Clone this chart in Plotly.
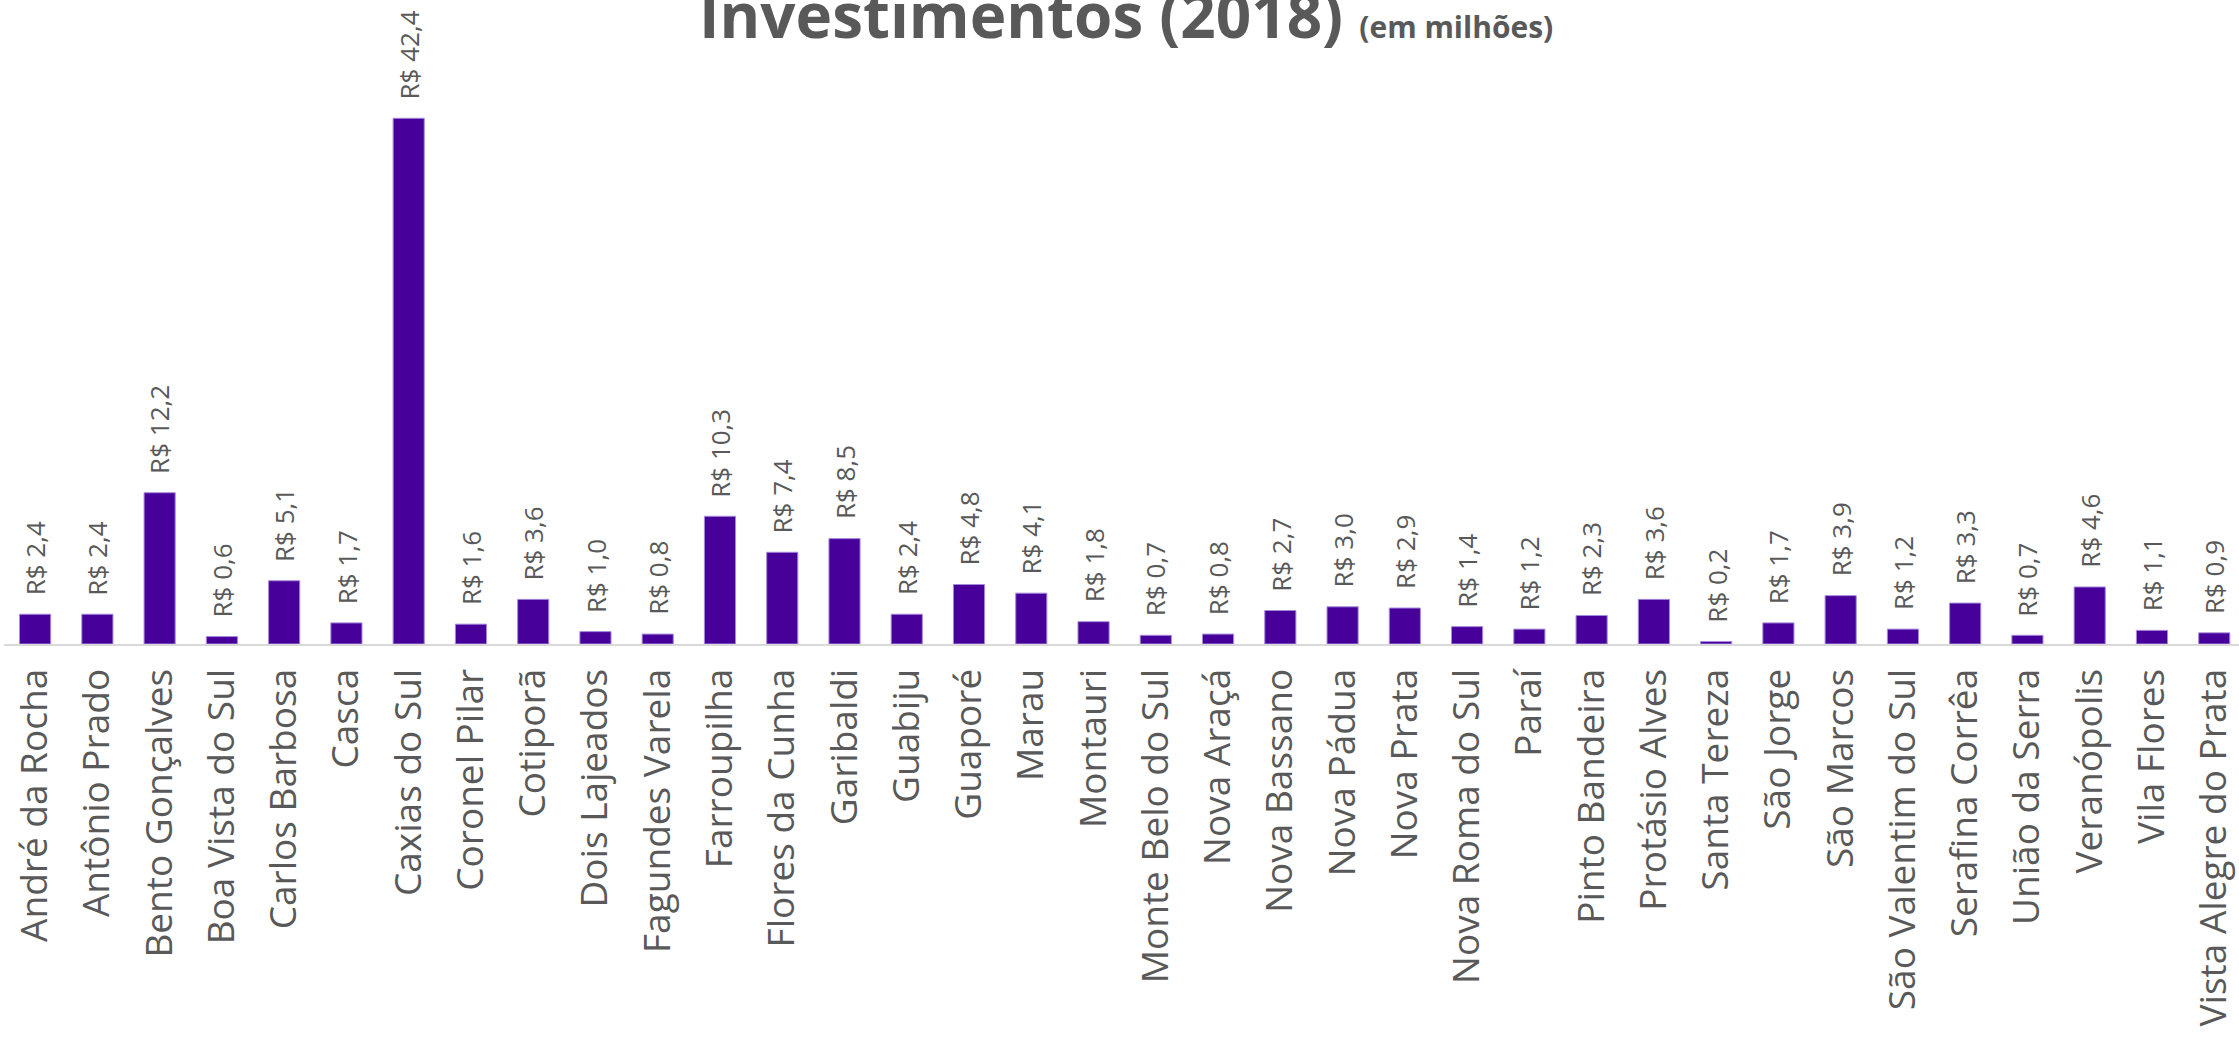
import plotly.graph_objects as go

municipios = [
    "André da Rocha", "Antônio Prado", "Bento Gonçalves", "Boa Vista do Sul",
    "Carlos Barbosa", "Casca", "Caxias do Sul", "Coronel Pilar", "Cotiporã",
    "Dois Lajeados", "Fagundes Varela", "Farroupilha", "Flores da Cunha",
    "Garibaldi", "Guabiju", "Guaporé", "Marau", "Montauri", "Monte Belo do Sul",
    "Nova Araçá", "Nova Bassano", "Nova Pádua", "Nova Prata", "Nova Roma do Sul",
    "Paraí", "Pinto Bandeira", "Protásio Alves", "Santa Tereza", "São Jorge",
    "São Marcos", "São Valentim do Sul", "Serafina Corrêa", "União da Serra",
    "Veranópolis", "Vila Flores", "Vista Alegre do Prata",
]
investimentos = [
    2.4, 2.4, 12.2, 0.6, 5.1, 1.7, 42.4, 1.6, 3.6, 1.0, 0.8, 10.3, 7.4, 8.5,
    2.4, 4.8, 4.1, 1.8, 0.7, 0.8, 2.7, 3.0, 2.9, 1.4, 1.2, 2.3, 3.6, 0.2, 1.7,
    3.9, 1.2, 3.3, 0.7, 4.6, 1.1, 0.9,
]
titulo = "Investimentos (2018)"
subtitulo = "(em milhões)"

TXT = "#595959"
FONT = "Open Sans"

fig = go.Figure()
fig.add_trace(go.Bar(
    x=municipios, y=investimentos,
    marker=dict(color="#47009A", line=dict(color="#A48ADB", width=1)),
    hoverinfo="x+y",
))

for m, v in zip(municipios, investimentos):
    fig.add_annotation(
        x=m, y=v, text="R$ " + f"{v:.1f}".replace(".", ","),
        textangle=-90, showarrow=False, yanchor="bottom", xanchor="center",
        yshift=17, font=dict(family=FONT, size=26, color=TXT),
    )

fig.add_annotation(
    xref="paper", yref="paper", x=0.5022, y=1, xanchor="center", yanchor="middle",
    yshift=46, showarrow=False,
    text=f"<b>{titulo}</b> <b><span style='font-size:30px'>{subtitulo}</span></b>",
    font=dict(family=FONT, size=62, color=TXT),
)

fig.update_layout(
    width=2239, height=1044,
    margin=dict(l=4, r=0, t=60, b=400, autoexpand=False),
    paper_bgcolor="white", plot_bgcolor="white",
    bargap=0.5, showlegend=False,
    font=dict(family=FONT, color=TXT),
    xaxis=dict(
        range=[-0.5, 35.398], tickangle=-90, showgrid=False, automargin=False,
        showline=True, linecolor="#D9D9D9", linewidth=2,
        tickfont=dict(family=FONT, size=37, color=TXT),
        ticks="", ticklabelstandoff=8,
    ),
    yaxis=dict(range=[0, 47.1], visible=False, showgrid=False, zeroline=False,
               automargin=False),
)

fig.write_html(
    "out.html",
    config={"displayModeBar": False},
    post_script="document.body.style.margin='0px';document.body.style.overflow='hidden';",
)
